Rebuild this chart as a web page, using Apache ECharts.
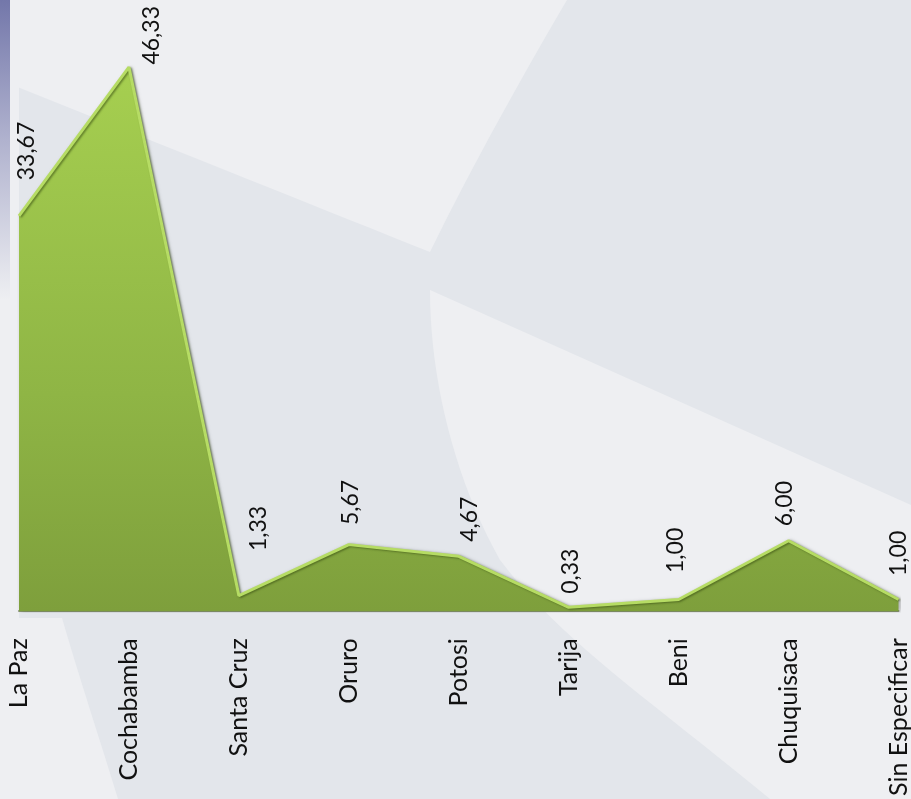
<!DOCTYPE html>
<html>
<head>
<meta charset="UTF-8">
<title>Departamentos</title>
<script src="https://cdn.jsdelivr.net/npm/echarts@6/dist/echarts.min.js"></script>
<style>
  html, body { margin: 0; padding: 0; }
  #main { width: 911px; height: 799px; }
</style>
</head>
<body>
<div id="main"></div>
<script type="text/javascript">
// departamentos
var departamentos = ['La Paz', 'Cochabamba', 'Santa Cruz', 'Oruro', 'Potosi', 'Tarija', 'Beni', 'Chuquisaca', 'Sin Especificar'];
// porcentajes
var porcentajes = [33.67, 46.33, 1.33, 5.67, 4.67, 0.33, 1.00, 6.00, 1.00];

// small nudges (screen dx, dy) for the value labels, like the original
var labelNudge = [[8, -35], [23, -2], [20, -44], [2, -19], [11, -14], [2, -13], [-3, -26], [-4, -14], [0, -23]];

var myChart = echarts.init(document.getElementById('main'), null, { renderer: 'canvas' });

// background swoosh helper: sample a cubic curve into polygon points
function curve(p0, c1, c2, p1) {
    var pts = [];
    for (var k = 0; k <= 20; k++) {
        var t = k / 20, u = 1 - t;
        pts.push([
            u * u * u * p0[0] + 3 * u * u * t * c1[0] + 3 * u * t * t * c2[0] + t * t * t * p1[0],
            u * u * u * p0[1] + 3 * u * u * t * c1[1] + 3 * u * t * t * c2[1] + t * t * t * p1[1]
        ]);
    }
    return pts;
}

var topLeft = [[0, 0]]
    .concat(curve([567, 0], [520, 80], [470, 170], [430, 252]))
    .concat(curve([430, 252], [300, 200], [150, 140], [0, 80]));
var wedge = [[430, 290], [911, 505], [911, 799]]
    .concat(curve([770, 799], [650, 700], [560, 640], [500, 560]))
    .concat(curve([500, 560], [455, 480], [430, 380], [430, 290]));
var bottomLeft = [[0, 618]]
    .concat(curve([62, 618], [80, 680], [100, 740], [118, 799]))
    .concat([[0, 799]]);

var data = porcentajes.map(function (v, i) {
    // label offset is applied in the rotated frame of the label
    return {
        value: v,
        label: { offset: [-labelNudge[i][1], labelNudge[i][0]] }
    };
});

var option = {
    backgroundColor: '#e3e6eb',
    animation: false,
    grid: { left: 19, right: 12, top: 24, bottom: 183 },
    graphic: {
        elements: [
            { type: 'polygon', z: -10, silent: true, shape: { points: topLeft }, style: { fill: '#eeeff2' } },
            { type: 'polygon', z: -10, silent: true, shape: { points: wedge }, style: { fill: '#eeeff2' } },
            { type: 'polygon', z: -10, silent: true, shape: { points: bottomLeft }, style: { fill: '#eeeff2' } },
            { type: 'rect', z: -10, silent: true, shape: { x: 0, y: 80, width: 19, height: 540 }, style: { fill: '#eeeff2' } },
            // bluish strip on the left edge
            {
                type: 'rect', z: -9, silent: true,
                shape: { x: 0, y: 0, width: 10, height: 300 },
                style: {
                    fill: new echarts.graphic.LinearGradient(0, 0, 0, 1, [
                        { offset: 0, color: '#7377aa' },
                        { offset: 0.45, color: '#aeb0cd' },
                        { offset: 1, color: '#eeeff2' }
                    ])
                }
            }
        ]
    },
    xAxis: {
        type: 'category',
        boundaryGap: false,
        data: departamentos,
        axisLine: { show: true, lineStyle: { color: '#8c967e', width: 2 } },
        axisTick: { show: false },
        splitLine: { show: false },
        axisLabel: {
            rotate: 90,
            margin: 27,
            interval: 0,
            color: '#111',
            fontSize: 25,
            fontFamily: 'Lato'
        }
    },
    yAxis: {
        type: 'value',
        min: 0,
        max: 50,
        show: false
    },
    series: [{
        type: 'line',
        data: data,
        symbol: 'circle',
        symbolSize: 1,
        itemStyle: { color: 'rgba(0,0,0,0)' },
        lineStyle: {
            color: '#b6dc64',
            width: 3,
            shadowColor: 'rgba(50,70,15,0.55)',
            shadowBlur: 2,
            shadowOffsetX: 1.5,
            shadowOffsetY: 1
        },
        areaStyle: {
            opacity: 1,
            color: new echarts.graphic.LinearGradient(0, 0, 0, 1, [
                { offset: 0, color: '#a6cf50' },
                { offset: 0.6, color: '#8fb545' },
                { offset: 1, color: '#7e9f3c' }
            ]),
            shadowColor: 'rgba(0,0,0,0.3)',
            shadowBlur: 4,
            shadowOffsetX: 2
        },
        label: {
            show: true,
            position: 'top',
            distance: 0,
            rotate: 90,
            align: 'left',
            verticalAlign: 'middle',
            color: '#111',
            fontSize: 23,
            fontFamily: 'Lato',
            formatter: function (p) {
                return p.value.toFixed(2).replace('.', ',');
            }
        }
    }]
};

myChart.setOption(option);
</script>
</body>
</html>
